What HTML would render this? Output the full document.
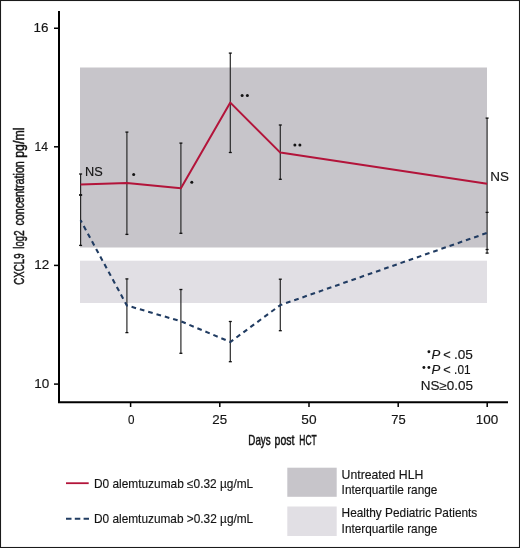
<!DOCTYPE html>
<html><head><meta charset="utf-8"><style>
html,body{margin:0;padding:0;background:#fff;}
svg{display:block;will-change:transform;}
.t,.ti{font-family:"Liberation Sans",sans-serif;font-size:12.2px;fill:#141414;stroke:#141414;stroke-width:0.15px;}
.ti{font-style:italic;}
.c{font-family:"Liberation Sans",sans-serif;font-size:14.6px;fill:#141414;stroke:#141414;stroke-width:0.5px;}
.yl{font-size:14px;}
.cap{font-size:15.2px;}
</style></head><body>
<svg width="520" height="548" viewBox="0 0 520 548">
<rect x="80" y="67.5" width="407" height="180" fill="#c7c5ca"/>
<rect x="80" y="260.7" width="407" height="42.3" fill="#e1dfe4"/>
<line x1="80.6" y1="174.0" x2="80.6" y2="194.8" stroke="#2a2a2a" stroke-width="1.2"/>
<line x1="80.6" y1="195.2" x2="80.6" y2="245.4" stroke="#2a2a2a" stroke-width="1.2"/>
<line x1="79.1" y1="174.0" x2="82.1" y2="174.0" stroke="#111" stroke-width="1.3"/>
<line x1="79.1" y1="194.8" x2="82.1" y2="194.8" stroke="#111" stroke-width="1.3"/>
<line x1="79.1" y1="195.2" x2="82.1" y2="195.2" stroke="#111" stroke-width="1.3"/>
<line x1="79.1" y1="245.4" x2="82.1" y2="245.4" stroke="#111" stroke-width="1.3"/>
<line x1="126.9" y1="132.1" x2="126.9" y2="234.4" stroke="#2a2a2a" stroke-width="1.2"/>
<line x1="126.9" y1="278.9" x2="126.9" y2="332.6" stroke="#2a2a2a" stroke-width="1.2"/>
<line x1="125.4" y1="132.1" x2="128.4" y2="132.1" stroke="#111" stroke-width="1.3"/>
<line x1="125.4" y1="234.4" x2="128.4" y2="234.4" stroke="#111" stroke-width="1.3"/>
<line x1="125.4" y1="278.9" x2="128.4" y2="278.9" stroke="#111" stroke-width="1.3"/>
<line x1="125.4" y1="332.6" x2="128.4" y2="332.6" stroke="#111" stroke-width="1.3"/>
<line x1="180.9" y1="143.1" x2="180.9" y2="233.3" stroke="#2a2a2a" stroke-width="1.2"/>
<line x1="180.9" y1="289.5" x2="180.9" y2="353.3" stroke="#2a2a2a" stroke-width="1.2"/>
<line x1="179.4" y1="143.1" x2="182.4" y2="143.1" stroke="#111" stroke-width="1.3"/>
<line x1="179.4" y1="233.3" x2="182.4" y2="233.3" stroke="#111" stroke-width="1.3"/>
<line x1="179.4" y1="289.5" x2="182.4" y2="289.5" stroke="#111" stroke-width="1.3"/>
<line x1="179.4" y1="353.3" x2="182.4" y2="353.3" stroke="#111" stroke-width="1.3"/>
<line x1="230.3" y1="53.1" x2="230.3" y2="152.5" stroke="#2a2a2a" stroke-width="1.2"/>
<line x1="230.3" y1="321.5" x2="230.3" y2="361.7" stroke="#2a2a2a" stroke-width="1.2"/>
<line x1="228.8" y1="53.1" x2="231.8" y2="53.1" stroke="#111" stroke-width="1.3"/>
<line x1="228.8" y1="152.5" x2="231.8" y2="152.5" stroke="#111" stroke-width="1.3"/>
<line x1="228.8" y1="321.5" x2="231.8" y2="321.5" stroke="#111" stroke-width="1.3"/>
<line x1="228.8" y1="361.7" x2="231.8" y2="361.7" stroke="#111" stroke-width="1.3"/>
<line x1="280.3" y1="125.0" x2="280.3" y2="179.3" stroke="#2a2a2a" stroke-width="1.2"/>
<line x1="280.3" y1="279.2" x2="280.3" y2="330.7" stroke="#2a2a2a" stroke-width="1.2"/>
<line x1="278.8" y1="125.0" x2="281.8" y2="125.0" stroke="#111" stroke-width="1.3"/>
<line x1="278.8" y1="179.3" x2="281.8" y2="179.3" stroke="#111" stroke-width="1.3"/>
<line x1="278.8" y1="279.2" x2="281.8" y2="279.2" stroke="#111" stroke-width="1.3"/>
<line x1="278.8" y1="330.7" x2="281.8" y2="330.7" stroke="#111" stroke-width="1.3"/>
<line x1="487.1" y1="118.1" x2="487.1" y2="253.1" stroke="#2a2a2a" stroke-width="1.2"/>
<line x1="485.6" y1="118.1" x2="488.6" y2="118.1" stroke="#111" stroke-width="1.3"/>
<line x1="485.6" y1="249.5" x2="488.6" y2="249.5" stroke="#111" stroke-width="1.3"/>
<line x1="485.6" y1="212.4" x2="488.6" y2="212.4" stroke="#111" stroke-width="1.3"/>
<line x1="485.6" y1="253.1" x2="488.6" y2="253.1" stroke="#111" stroke-width="1.3"/>
<polyline points="80.6,184.4 126.9,183.1 180.9,188.3 230.3,102.6 280.3,152.6 487.1,183.8" fill="none" stroke="#b3143a" stroke-width="2" stroke-linejoin="round"/>
<polyline points="80.6,220.3 126.9,305.5 180.9,321.3 230.3,342.0 280.3,305.1 487.1,232.9" fill="none" stroke="#213c62" stroke-width="2.1" stroke-dasharray="4.7 3.96" stroke-dashoffset="2.1"/>
<line x1="59" y1="11" x2="59" y2="403" stroke="#000" stroke-width="2"/>
<line x1="58" y1="402.2" x2="508" y2="402.2" stroke="#000" stroke-width="2"/>
<line x1="54" y1="28.25" x2="58" y2="28.25" stroke="#000" stroke-width="1.5"/>
<line x1="54" y1="146.8" x2="58" y2="146.8" stroke="#000" stroke-width="1.5"/>
<line x1="54" y1="265.4" x2="58" y2="265.4" stroke="#000" stroke-width="1.5"/>
<line x1="54" y1="384.1" x2="58" y2="384.1" stroke="#000" stroke-width="1.5"/>
<line x1="130.6" y1="403" x2="130.6" y2="407" stroke="#000" stroke-width="1.5"/>
<line x1="219.8" y1="403" x2="219.8" y2="407" stroke="#000" stroke-width="1.5"/>
<line x1="309" y1="403" x2="309" y2="407" stroke="#000" stroke-width="1.5"/>
<line x1="398.2" y1="403" x2="398.2" y2="407" stroke="#000" stroke-width="1.5"/>
<line x1="487.2" y1="403" x2="487.2" y2="407" stroke="#000" stroke-width="1.5"/>
<circle cx="133.67" cy="174.6" r="1.5" fill="#141414"/>
<circle cx="191.8" cy="182.27" r="1.5" fill="#141414"/>
<circle cx="242.15" cy="95.6" r="1.5" fill="#141414"/>
<circle cx="247.35" cy="95.6" r="1.5" fill="#141414"/>
<circle cx="294.9" cy="144.9" r="1.5" fill="#141414"/>
<circle cx="299.9" cy="144.9" r="1.5" fill="#141414"/>
<circle cx="428.9" cy="351.75" r="1.45" fill="#141414"/>
<circle cx="423.9" cy="367.44" r="1.45" fill="#141414"/>
<circle cx="428.9" cy="367.44" r="1.45" fill="#141414"/>
<line x1="66" y1="483.2" x2="88.7" y2="483.2" stroke="#b3143a" stroke-width="1.8"/>
<line x1="66" y1="518.7" x2="89" y2="518.7" stroke="#213c62" stroke-width="2" stroke-dasharray="5.5 3.3"/>
<rect x="287.3" y="467.7" width="49.4" height="29.1" fill="#c7c5ca"/>
<rect x="287.3" y="506.5" width="49.4" height="29.5" fill="#e1dfe4"/>
<rect x="0.5" y="0.5" width="519" height="547" fill="none" stroke="#1a1a1a" stroke-width="1.1"/>
<text id="t16" x="33.618" y="32.0" textLength="14.894" lengthAdjust="spacingAndGlyphs" class="t">16</text>
<text id="t14" x="34.580" y="150.6" textLength="13.527" lengthAdjust="spacingAndGlyphs" class="t">14</text>
<text id="t12" x="34.367" y="269.4" textLength="14.991" lengthAdjust="spacingAndGlyphs" class="t">12</text>
<text id="t10" x="34.367" y="388.1" textLength="14.991" lengthAdjust="spacingAndGlyphs" class="t">10</text>
<text id="x0" x="127.879" y="423.6" textLength="6.481" lengthAdjust="spacingAndGlyphs" class="t">0</text>
<text id="x25" x="212.374" y="423.6" textLength="14.826" lengthAdjust="spacingAndGlyphs" class="t">25</text>
<text id="x50" x="301.267" y="423.6" textLength="15.236" lengthAdjust="spacingAndGlyphs" class="t">50</text>
<text id="x75" x="391.219" y="423.6" textLength="14.429" lengthAdjust="spacingAndGlyphs" class="t">75</text>
<text id="x100" x="475.679" y="423.6" textLength="22.487" lengthAdjust="spacingAndGlyphs" class="t">100</text>
<text id="ns1" x="85.036" y="176.3" textLength="17.689" lengthAdjust="spacingAndGlyphs" class="t">NS</text>
<text id="ns6" x="490.348" y="181.4" textLength="18.682" lengthAdjust="spacingAndGlyphs" class="t">NS</text>
<text id="pl1a" x="431.531" y="358.5" textLength="8.795" lengthAdjust="spacingAndGlyphs" class="ti">P</text>
<text id="pl1b" x="443.232" y="358.5" textLength="7.459" lengthAdjust="spacingAndGlyphs" class="t"><</text>
<text id="pl1c" x="453.997" y="358.5" textLength="18.968" lengthAdjust="spacingAndGlyphs" class="t">.05</text>
<text id="pl2a" x="431.531" y="374.2" textLength="8.795" lengthAdjust="spacingAndGlyphs" class="ti">P</text>
<text id="pl2b" x="443.232" y="374.2" textLength="7.459" lengthAdjust="spacingAndGlyphs" class="t"><</text>
<text id="pl2c" x="454.111" y="374.2" textLength="16.455" lengthAdjust="spacingAndGlyphs" class="t">.01</text>
<text id="pl3" x="420.713" y="390.2" textLength="52.372" lengthAdjust="spacingAndGlyphs" class="t">NS≥0.05</text>
<text id="lg1" x="94.002" y="487.6" textLength="159.208" lengthAdjust="spacingAndGlyphs" class="t">D0 alemtuzumab ≤0.32 µg/mL</text>
<text id="lg2" x="94.003" y="523.0" textLength="159.214" lengthAdjust="spacingAndGlyphs" class="t">D0 alemtuzumab &gt;0.32 µg/mL</text>
<text id="lg3" x="341.567" y="478.5" textLength="81.752" lengthAdjust="spacingAndGlyphs" class="t">Untreated HLH</text>
<text id="lg4" x="341.619" y="493.5" textLength="95.712" lengthAdjust="spacingAndGlyphs" class="t">Interquartile range</text>
<text id="lg5" x="341.599" y="517.4" textLength="135.695" lengthAdjust="spacingAndGlyphs" class="t">Healthy Pediatric Patients</text>
<text id="lg6" x="341.619" y="532.6" textLength="95.712" lengthAdjust="spacingAndGlyphs" class="t">Interquartile range</text>
<text id="xl1" x="248.347" y="445.2" textLength="22.282" lengthAdjust="spacingAndGlyphs" class="c">Days</text>
<text id="xl2" x="274.577" y="445.2" textLength="19.894" lengthAdjust="spacingAndGlyphs" class="c">post</text>
<text id="xl3" x="299.321" y="445.2" textLength="17.405" lengthAdjust="spacingAndGlyphs" class="c">HCT</text>
<g transform="translate(24.2,0) rotate(-90)"><text id="yl1" x="-284.766" y="0" textLength="31.373" lengthAdjust="spacingAndGlyphs" class="c yl"><tspan class="cap">CXCL9</tspan></text><text id="yl2" x="-248.656" y="0" textLength="18.257" lengthAdjust="spacingAndGlyphs" class="c yl">log<tspan class="cap">2</tspan></text><text id="yl3" x="-225.613" y="0" textLength="64.458" lengthAdjust="spacingAndGlyphs" class="c yl">concentration</text><text id="yl4" x="-157.804" y="0" textLength="30.293" lengthAdjust="spacingAndGlyphs" class="c yl">pg/ml</text></g>
</svg>
</body></html>
